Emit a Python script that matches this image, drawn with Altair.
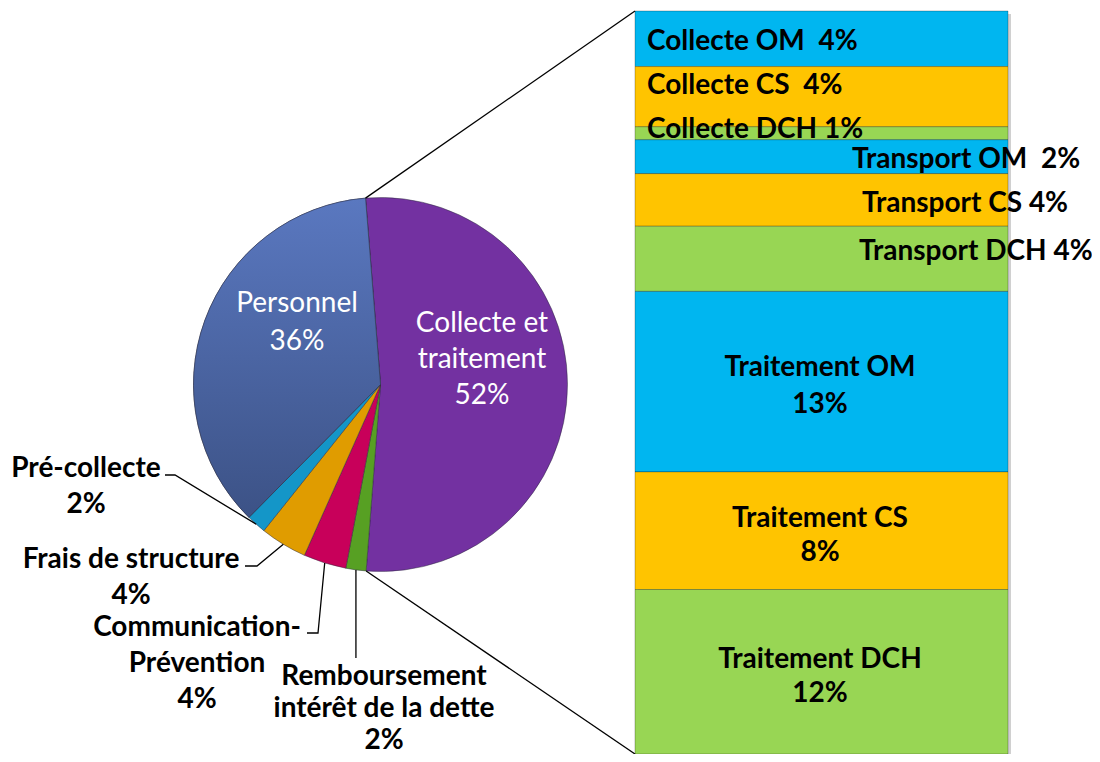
import math
import altair as alt
import pandas as pd

# ---------------- data ----------------
pie_categories = ["Collecte et traitement", "Remboursement intérêt de la dette",
                  "Communication-Prévention", "Frais de structure", "Pré-collecte", "Personnel"]
pie_values = [52.5, 1.75, 3.7, 4.05, 1.7, 36.3]
pie_labels = ["Collecte et\ntraitement\n52%", "Remboursement\nintérêt de la dette\n2%",
              "Communication-\nPrévention\n4%", "Frais de structure\n4%", "Pré-collecte\n2%",
              "Personnel\n36%"]

bar_categories = ["Collecte OM", "Collecte CS", "Collecte DCH", "Transport OM", "Transport CS",
                  "Transport DCH", "Traitement OM", "Traitement CS", "Traitement DCH"]
bar_values = [3.89, 4.21, 0.91, 2.37, 3.68, 4.56, 12.63, 8.23, 11.51]
bar_labels = ["Collecte OM\u00a0 4%", "Collecte CS\u00a0 4%", "Collecte DCH 1%", "Transport OM\u00a0 2%",
              "Transport CS 4%", "Transport DCH 4%", "Traitement OM\n13%", "Traitement CS\n8%",
              "Traitement DCH\n12%"]
bar_types = ["OM", "CS", "DCH", "OM", "CS", "DCH", "OM", "CS", "DCH"]

# ---------------- layout / style ----------------
W, H = 1084, 746
PIE_CX, PIE_CY, PIE_R = 372.5, 376.5, 187
PIE_START_DEG = -4.6
BAR_X0, BAR_X1, BAR_TOP, BAR_BOTTOM = 627, 1000, 3, 746
FONT = "Lato"
FS = 28

pie_colors = ["#7331a1", "#57a023", "#c8005a", "#e09c00", "#1496c8", "#4f69ac"]
bar_color_domain = ["OM", "CS", "DCH"]
bar_color_range = ["#00b6f0", "#ffc400", "#98d654"]

# label anchor positions (pixel, first line) for pie labels
pie_label_pos = {
    "Collecte et traitement": (474, 316, "white", "normal", 36),
    "Personnel": (289, 296, "white", "normal", 38),
    "Pré-collecte": (78, 461, "black", "bold", 36),
    "Frais de structure": (123, 552, "black", "bold", 36),
    "Communication-Prévention": (189, 620, "black", "bold", 36),
    "Remboursement intérêt de la dette": (376, 669, "black", "bold", 32),
}
# leader elbows (label end -> elbow), the rim point is computed from the slice angle
leader_elbows = {
    "Pré-collecte": [(157, 467), (167, 467)],
    "Frais de structure": [(237, 558), (249, 558)],
    "Communication-Prévention": [(299, 625), (310, 625)],
    "Remboursement intérêt de la dette": [(None, 650)],
}
# bar label anchors: (x, y of first line, align, line height)
bar_label_pos = [
    (639, 34, "left", 34), (639, 78, "left", 34), (639, 122, "left", 34),
    (844, 152, "left", 34), (854, 196, "left", 34), (851, 244, "left", 34),
    (812, 360, "center", 37), (812, 511, "center", 34), (812, 652, "center", 34),
]

# ---------------- derived tables ----------------
total = sum(pie_values)
pie_df = pd.DataFrame({"cat": pie_categories, "value": pie_values,
                       "idx": list(range(len(pie_values)))})

start_rad = math.radians(PIE_START_DEG)


def rim_point(angle_rad):
    return (PIE_CX + PIE_R * math.sin(angle_rad), PIE_CY - PIE_R * math.cos(angle_rad))


cum = 0.0
angles = {}
for c, v in zip(pie_categories, pie_values):
    a0 = start_rad + 2 * math.pi * cum / total
    cum += v
    a1 = start_rad + 2 * math.pi * cum / total
    angles[c] = (a0, a1)

# line segments: connectors + leaders
rows = []
lid = 0
a0, a1 = angles["Collecte et traitement"]
p_top = rim_point(a0)
p_bot = rim_point(a1)
for pts in ([p_top, (BAR_X0, BAR_TOP)], [p_bot, (BAR_X0, BAR_BOTTOM)]):
    for s, (x, y) in enumerate(pts):
        rows.append({"lid": lid, "seq": s, "px": x, "py": y})
    lid += 1
for cat, elbows in leader_elbows.items():
    b0, b1 = angles[cat]
    rp = rim_point((b0 + b1) / 2)
    pts = []
    for (x, y) in elbows:
        pts.append((rp[0] if x is None else x, y))
    pts.append(rp)
    for s, (x, y) in enumerate(pts):
        rows.append({"lid": lid, "seq": s, "px": x, "py": y})
    lid += 1
lines_df = pd.DataFrame(rows)

bar_df = pd.DataFrame({"cat": bar_categories, "value": bar_values, "type": bar_types})
bar_df["y1"] = bar_df["value"].cumsum()
bar_df["y0"] = bar_df["y1"] - bar_df["value"]
bar_total = float(bar_df["value"].sum())

pie_text_df = pd.DataFrame({"label": pie_labels, "cat": pie_categories})
pie_text_df["px"] = [pie_label_pos[c][0] for c in pie_categories]
pie_text_df["py"] = [pie_label_pos[c][1] for c in pie_categories]

bar_text_df = pd.DataFrame({"label": bar_labels,
                            "px": [p[0] for p in bar_label_pos],
                            "py": [p[1] for p in bar_label_pos]})

# ---------------- encodings helpers ----------------
xs = alt.Scale(domain=[0, W], range=[0, W], nice=False, zero=False)
ys = alt.Scale(domain=[0, H], range=[0, H], nice=False, zero=False)
bys = alt.Scale(domain=[0, bar_total], range=[BAR_TOP, BAR_BOTTOM], nice=False, zero=False)


def PX(f="px"):
    return alt.X(f"{f}:Q", scale=xs, axis=None)


def PY(f="py"):
    return alt.Y(f"{f}:Q", scale=ys, axis=None)


theta_scale = alt.Scale(range=[start_rad, start_rad + 2 * math.pi])

# bar shadow
shadow = alt.Chart(pd.DataFrame({"a": [0.0], "b": [bar_total]})).mark_rect(
    color="#c4c4c4", opacity=0.8
).encode(
    x=alt.value(BAR_X0 + 3), x2=alt.value(BAR_X1 + 3),
    y=alt.Y("a:Q", scale=alt.Scale(domain=[0, bar_total], range=[BAR_TOP + 3, BAR_BOTTOM + 3],
                                   nice=False, zero=False), axis=None),
    y2="b:Q",
)

bars = alt.Chart(bar_df).mark_rect(stroke="#000000", strokeOpacity=0.25, strokeWidth=1).encode(
    x=alt.value(BAR_X0), x2=alt.value(BAR_X1),
    y=alt.Y("y0:Q", scale=bys, axis=None),
    y2="y1:Q",
    color=alt.Color("type:N", scale=alt.Scale(domain=bar_color_domain, range=bar_color_range),
                    legend=None),
)

pie = alt.Chart(pie_df).mark_arc(radius=PIE_R, stroke="#2a2a3a", strokeWidth=0.8,
                                 strokeOpacity=0.6).encode(
    x=alt.value(PIE_CX), y=alt.value(PIE_CY),
    theta=alt.Theta("value:Q", stack=True, scale=theta_scale),
    order=alt.Order("idx:Q"),
    color=alt.Color("cat:N", scale=alt.Scale(domain=pie_categories, range=pie_colors), legend=None),
)

pie_grad = alt.Chart(pie_df).mark_arc(
    radius=PIE_R, stroke="#2a2a3a", strokeWidth=0.8, strokeOpacity=0.6,
    fill=alt.Gradient(gradient="linear",
                      stops=[alt.GradientStop(color="#5a78c0", offset=0),
                             alt.GradientStop(color="#3c5286", offset=1)],
                      x1=0.5, x2=0.5, y1=0, y2=1)
).encode(
    x=alt.value(PIE_CX), y=alt.value(PIE_CY),
    theta=alt.Theta("value:Q", stack=True, scale=theta_scale),
    order=alt.Order("idx:Q"),
    opacity=alt.condition(alt.datum.cat == "Personnel", alt.value(1), alt.value(0)),
)

lines = alt.Chart(lines_df).mark_line(color="black", strokeWidth=1.3).encode(
    x=PX(), y=PY(), detail="lid:N", order="seq:Q",
)

text_layers = []
for c in pie_categories:
    x, y, col, wt, lh = pie_label_pos[c]
    sub = pie_text_df[pie_text_df["cat"] == c]
    text_layers.append(
        alt.Chart(sub).mark_text(font=FONT, fontSize=FS, fontWeight=wt, color=col,
                                 lineBreak="\n", lineHeight=lh, align="center",
                                 baseline="middle").encode(x=PX(), y=PY(), text="label:N")
    )

for i, (x, y, al, lh) in enumerate(bar_label_pos):
    sub = bar_text_df.iloc[[i]]
    text_layers.append(
        alt.Chart(sub).mark_text(font=FONT, fontSize=FS, fontWeight="bold", color="black",
                                 lineBreak="\n", lineHeight=lh, align=al,
                                 baseline="middle").encode(x=PX(), y=PY(), text="label:N")
    )

chart = alt.layer(shadow, bars, pie, pie_grad, lines, *text_layers).resolve_scale(
    x="independent", y="independent", color="independent", theta="independent",
    opacity="independent"
).properties(
    width=W, height=H, padding=0, autosize="none", background="white"
).configure_view(stroke=None)

chart.save("out.html", embed_options={"renderer": "svg", "actions": False})
